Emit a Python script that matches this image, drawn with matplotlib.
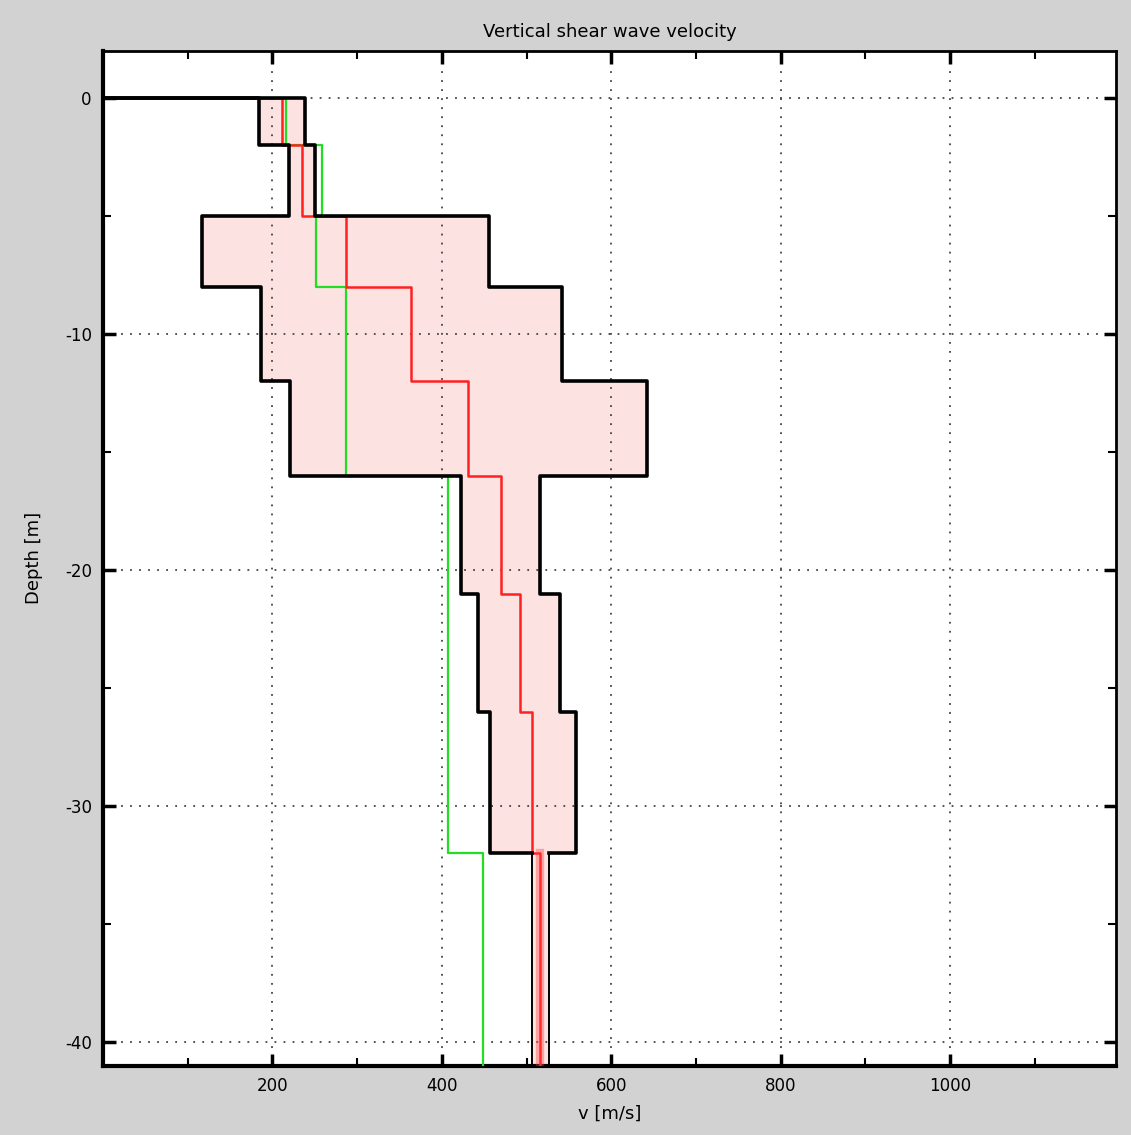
import matplotlib.pyplot as plt
import numpy as np

plt.rcParams['axes.unicode_minus'] = False

# layer boundaries (depth, m) and velocities per layer (m/s)
depth_edges = [0, -2, -5, -8, -12, -16, -21, -26, -32, -41]
v_min = [184, 220, 117, 187, 221, 423, 443, 457, 506]
v_max = [238, 250, 456, 542, 642, 516, 540, 558, 527]
v_red = [211, 235, 287, 364, 431, 470, 492, 506, 516]
v_green = [216, 259, 252, 287, 287, 407, 407, 407, 449]

xtick_vals = [200, 400, 600, 800, 1000]
ytick_vals = [0, -10, -20, -30, -40]


def step_profile(v):
    # staircase that starts at (0, 0) like the original plot
    top = np.array(depth_edges[:-1])
    bot = np.array(depth_edges[1:])
    x = np.concatenate([[0], np.repeat(v, 2)])
    y = np.concatenate([[0], np.column_stack([top, bot]).ravel()])
    return x, y


fig = plt.figure(figsize=(11.31, 11.35), dpi=100, facecolor='#d2d2d2')
ax = fig.add_axes([0.091, 0.061, 0.896, 0.894])

# shaded envelope between min and max
yy = np.column_stack([depth_edges[:-1], depth_edges[1:]]).ravel()
ax.fill_betweenx(yy, np.repeat(v_min, 2), np.repeat(v_max, 2),
                 color='#fde2e2', lw=0, zorder=1)

xg, yg = step_profile(v_green)
ax.plot(xg, yg, color='#22dd22', lw=1.6, zorder=3)
xr, yr = step_profile(v_red)
ax.plot(xr, yr, color='#ff2020', lw=1.8, zorder=3)
ax.plot(xr[-2:], yr[-2:], color='#ff4040', lw=6, alpha=0.4, zorder=3)

# envelope outline: thick down to the last layer, thin in the last one
xmn, ymn = step_profile(v_min)
xmx, ymx = step_profile(v_max)
ax.plot(xmn[:-1], ymn[:-1], color='black', lw=2.6, zorder=4)
ax.plot(xmx[:-1], ymx[:-1], color='black', lw=2.6, zorder=4)
ax.plot(xmn[-2:], ymn[-2:], color='black', lw=1.4, zorder=4)
ax.plot(xmx[-2:], ymx[-2:], color='black', lw=1.4, zorder=4)

ax.set_xlim(0, 1196)
ax.set_ylim(-41, 2)
ax.set_xticks(xtick_vals)
ax.set_yticks(ytick_vals)
ax.set_xticks(np.arange(100, 1200, 100), minor=True)
ax.set_yticks(np.arange(-35, 5, 5), minor=True)
ax.grid(True, which='major', linestyle=(0, (1, 4)), color='#444444', lw=1.3)

ax.tick_params(which='both', direction='in', top=True, right=True, labelsize=12, pad=8)
ax.tick_params(which='major', length=9, width=2.5)
ax.tick_params(which='minor', length=6, width=1.5)
for side in ['left', 'bottom']:
    ax.spines[side].set_linewidth(3)
for side in ['top', 'right']:
    ax.spines[side].set_linewidth(2)

ax.set_title('Vertical shear wave velocity', fontsize=13, pad=10)
ax.set_xlabel('v [m/s]', fontsize=13, labelpad=7)
ax.set_ylabel('Depth [m]', fontsize=13, labelpad=16)

plt.savefig('out.png', dpi=100, facecolor=fig.get_facecolor())
